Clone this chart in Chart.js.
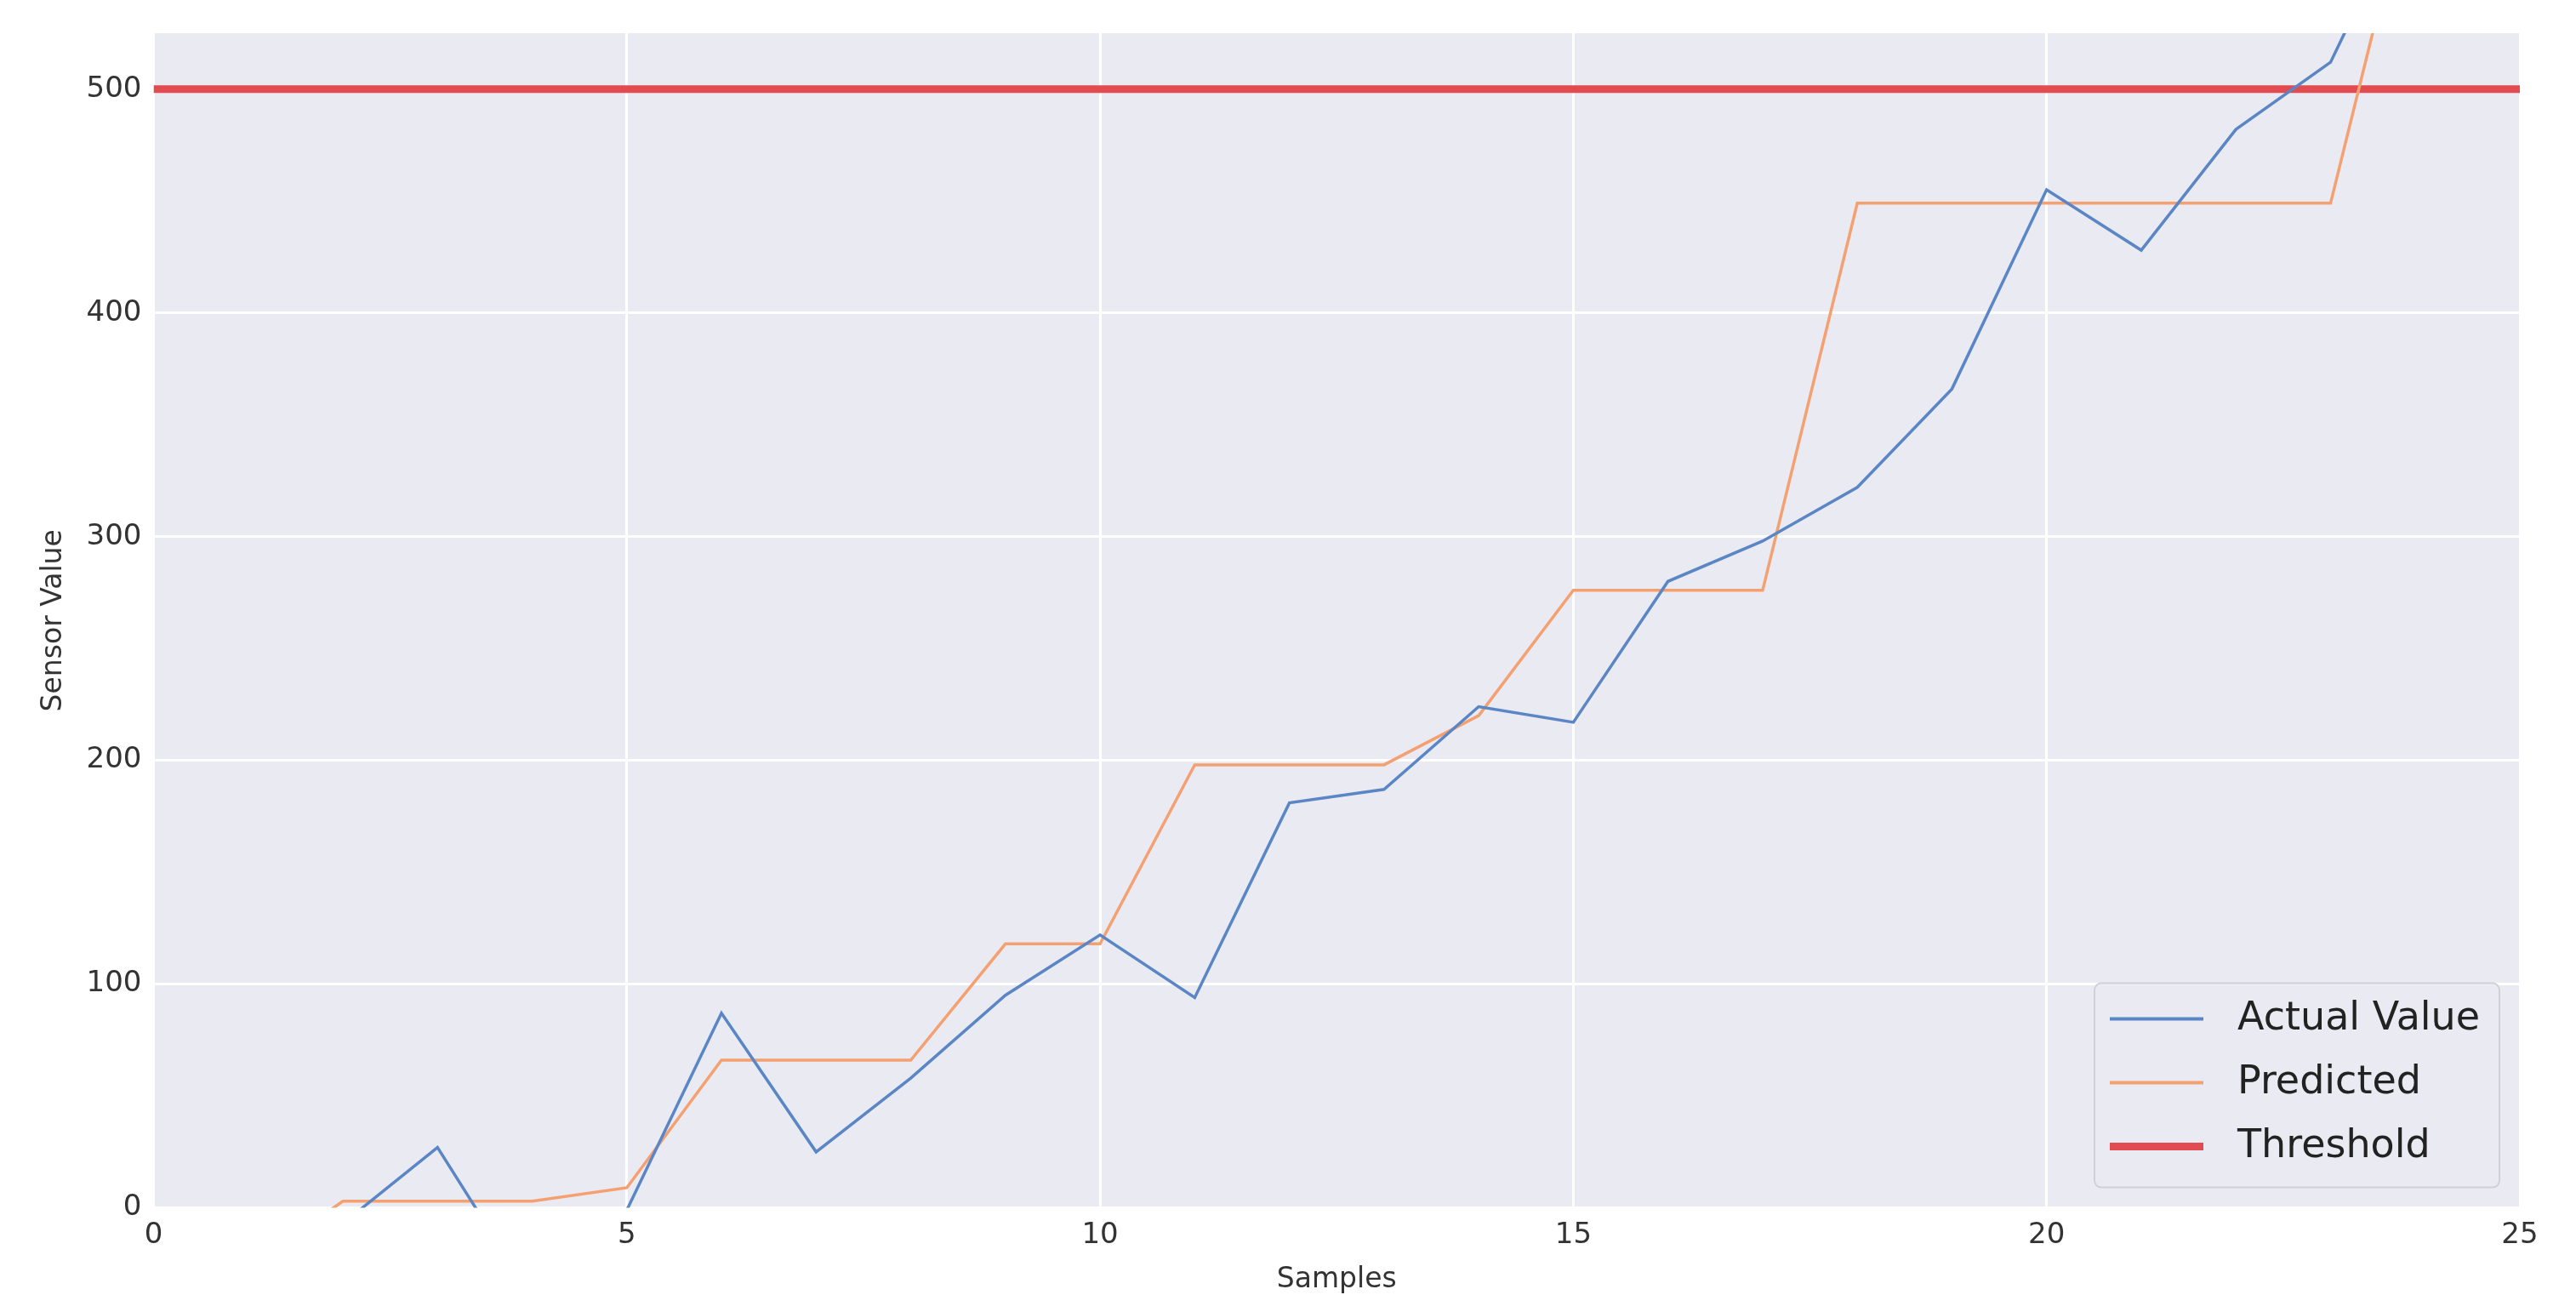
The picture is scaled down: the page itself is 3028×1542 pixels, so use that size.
<!DOCTYPE html>
<html><head><meta charset="utf-8">
<script src="https://cdn.jsdelivr.net/npm/chart.js@4"></script>
<style>html,body{margin:0;background:#fff}#w{width:3028px;height:1542px}</style>
</head><body><div id="w"><canvas id="c"></canvas></div>
<script>
const samples=[0,1,2,3,4,5,6,7,8,9,10,11,12,13,14,15,16,17,18,19,20,21,22,23,24];
const actual=[-30,-20,-7,27,-40,-1,87,25,58,95,122,94,181,187,224,217,280,298,322,366,455,428,482,512,600];
const predicted=[-40,-27,3,3,3,9,66,66,66,118,118,198,198,198,220,276,276,276,449,449,449,449,449,449,620];
const threshold=500;
const xTicks=[0,5,10,15,20,25];
const yTicks=[0,100,200,300,400,500];
const pts=a=>samples.map((x,i)=>({x,y:a[i]}));
const legendItems=[["Actual Value","#5a86c5",4],["Predicted","#f5a070",4],["Threshold","#e24b4f",9]];
const legendPlugin={id:'lg',afterDraw(ch){const {ctx,chartArea:a}=ch;const w=476,h=240,x=a.right-w-24,y=a.bottom-h-24;
ctx.save();ctx.fillStyle='rgba(234,234,242,0.85)';ctx.strokeStyle='#d0d0d8';ctx.lineWidth=2;
ctx.beginPath();ctx.roundRect(x,y,w,h,8);ctx.fill();ctx.stroke();
ctx.font='46px "DejaVu Sans", sans-serif';ctx.textBaseline='middle';
legendItems.forEach((it,i)=>{const yy=y+42+i*75;ctx.strokeStyle=it[1];ctx.lineWidth=it[2];ctx.beginPath();ctx.moveTo(x+18,yy);ctx.lineTo(x+128,yy);ctx.stroke();ctx.fillStyle='#222';ctx.fillText(it[0],x+168,yy);});
ctx.restore();}};
const bgPlugin={id:'bg',beforeDraw(ch){const {ctx,chartArea:a}=ch;ctx.save();ctx.fillStyle='#eaeaf2';ctx.fillRect(a.left,a.top,a.right-a.left,a.bottom-a.top);ctx.restore();}};
new Chart(document.getElementById('c'),{type:'scatter',
data:{datasets:[
{data:pts(actual),showLine:true,borderColor:'#5a86c5',borderWidth:3.5,pointRadius:0,tension:0},
{data:pts(predicted),showLine:true,borderColor:'#f5a070',borderWidth:3.5,pointRadius:0,tension:0},
{data:[{x:0,y:threshold},{x:25,y:threshold}],showLine:true,borderColor:'#e24b4f',borderWidth:9,pointRadius:0}
]},
options:{responsive:true,maintainAspectRatio:false,animation:false,
layout:{padding:{left:40,right:66,top:39,bottom:14}},
plugins:{legend:{display:false},tooltip:{enabled:false}},
scales:{
x:{type:'linear',min:0,max:25,afterBuildTicks:s=>{s.ticks=xTicks.map(v=>({value:v}))},
grid:{color:'#ffffff',lineWidth:3,drawTicks:false},border:{display:false},
ticks:{color:'#333',font:{size:34,family:'DejaVu Sans'},padding:12},
title:{display:true,text:'Samples',color:'#333',font:{size:33,family:'DejaVu Sans'},padding:{top:0}}},
y:{min:0,max:525,afterBuildTicks:s=>{s.ticks=yTicks.map(v=>({value:v}))},
grid:{color:'#ffffff',lineWidth:3,drawTicks:false},border:{display:false},
ticks:{color:'#333',font:{size:34,family:'DejaVu Sans'},padding:14},
title:{display:true,text:'Sensor Value',color:'#333',font:{size:33,family:'DejaVu Sans'}}}
}},plugins:[bgPlugin,legendPlugin]});
</script></body></html>
